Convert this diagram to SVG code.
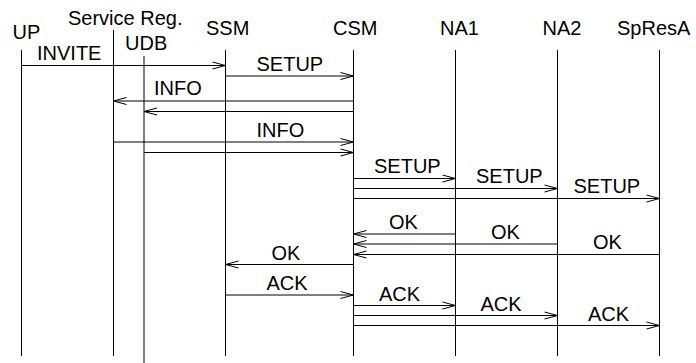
<svg xmlns="http://www.w3.org/2000/svg" width="696" height="363" viewBox="0 0 696 363">
<style>
text{font-family:"Liberation Sans",Arial,sans-serif;font-size:20px;fill:#000}
.ll{stroke:#000;stroke-width:1;fill:none}
.m{stroke:#000;stroke-width:1;fill:none;marker-end:url(#a)}
</style>
<defs>
<marker id="a" markerWidth="16" markerHeight="10" refX="14" refY="5" orient="auto" markerUnits="userSpaceOnUse" overflow="visible">
<path d="M1,1.5 L14,5 L1,8.5" fill="none" stroke="#000" stroke-width="1"/>
</marker>
</defs>
<rect width="696" height="363" fill="#fff"/>
<g id="UP"><text x="12.5" y="39">UP</text><line class="ll" x1="21.5" y1="50" x2="21.5" y2="356"/></g>
<g id="ServiceReg"><text x="68" y="25">Service Reg.</text><line class="ll" x1="113.5" y1="30" x2="113.5" y2="356"/></g>
<g id="UDB"><text x="125" y="50">UDB</text><line class="ll" x1="144" y1="56" x2="144" y2="363"/></g>
<g id="SSM"><text x="206" y="35">SSM</text><line class="ll" x1="225.5" y1="50" x2="225.5" y2="356"/></g>
<g id="CSM"><text x="333" y="35">CSM</text><line class="ll" x1="353.5" y1="50" x2="353.5" y2="356"/></g>
<g id="NA1"><text x="440" y="35">NA1</text><line class="ll" x1="455.5" y1="50" x2="455.5" y2="356"/></g>
<g id="NA2"><text x="542.5" y="35">NA2</text><line class="ll" x1="557.5" y1="50" x2="557.5" y2="356"/></g>
<g id="SpResA"><text x="617" y="35">SpResA</text><line class="ll" x1="659.5" y1="50" x2="659.5" y2="356"/></g>
<g id="connectors">
<line class="m" x1="21.5" y1="65.5" x2="225.5" y2="65.5"/><text x="37" y="60">INVITE</text>
<line class="m" x1="225.5" y1="76" x2="353.5" y2="76"/><text x="256.5" y="71">SETUP</text>
<line class="m" x1="353.5" y1="101" x2="113.5" y2="101"/><text x="154" y="95">INFO</text>
<line class="m" x1="353.5" y1="111.5" x2="144" y2="111.5"/>
<line class="m" x1="113.5" y1="142" x2="353.5" y2="142"/><text x="256.5" y="136.5">INFO</text>
<line class="m" x1="144" y1="152.5" x2="353.5" y2="152.5"/>
<line class="m" x1="353.5" y1="178.5" x2="455.5" y2="178.5"/><text x="374" y="172.5">SETUP</text>
<line class="m" x1="353.5" y1="188.5" x2="557.5" y2="188.5"/><text x="476" y="183">SETUP</text>
<line class="m" x1="353.5" y1="198.5" x2="659.5" y2="198.5"/><text x="573.5" y="193">SETUP</text>
<line class="m" x1="455.5" y1="234" x2="353.5" y2="234"/><text x="389" y="229">OK</text>
<line class="m" x1="557.5" y1="244" x2="353.5" y2="244"/><text x="491" y="238.5">OK</text>
<line class="m" x1="659.5" y1="254.5" x2="353.5" y2="254.5"/><text x="593" y="248.5">OK</text>
<line class="m" x1="353.5" y1="264.5" x2="225.5" y2="264.5"/><text x="271.5" y="260">OK</text>
<line class="m" x1="225.5" y1="295" x2="353.5" y2="295"/><text x="266.5" y="290">ACK</text>
<line class="m" x1="353.5" y1="305.5" x2="455.5" y2="305.5"/><text x="379" y="300.5">ACK</text>
<line class="m" x1="353.5" y1="315.5" x2="557.5" y2="315.5"/><text x="480.5" y="311">ACK</text>
<line class="m" x1="353.5" y1="325.5" x2="659.5" y2="325.5"/><text x="588" y="321">ACK</text>
</g>
</svg>
